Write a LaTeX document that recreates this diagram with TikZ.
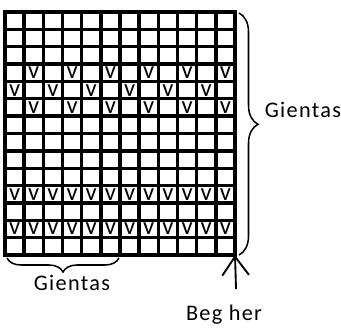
\documentclass[tikz,border=0pt]{standalone}
\usepackage{fontspec}
\setmainfont{Carlito}
\newfontfamily\lblfont[LetterSpace=6]{Carlito}
\usetikzlibrary{decorations.pathreplacing, arrows.meta}

\begin{document}
\begin{tikzpicture}[
  x=0.3mm, y=-0.3mm,
  gridline/.style={line width=2.9pt},
  border/.style={line width=3.3pt},
  vcell/.style={anchor=base, inner sep=0pt, font=\fontsize{21}{21}\selectfont},
  lbl/.style={inner sep=0pt, font=\lblfont\fontsize{19}{21}\selectfont},
  brc/.style 2 args={decorate, line width=1.3pt,
    decoration={brace, amplitude=#1, aspect=#2}},
  arr/.style={-{Straight Barb[length=5.6mm, width=8mm]}, line width=1.6pt},
]
\useasboundingbox (0,0) rectangle (341,327);

%% the 12 x 14 grid
\begin{scope}[shift={(5,12)}, x=5.75mm, y=-5.207mm]
  \coordinate (gNW) at (0,0);
  \coordinate (gSE) at (12,14);
  \foreach \c in {1,...,11}
    \draw[gridline] (\c,0) -- (\c,14);
  \foreach \r in {1,...,13}
    \draw[gridline] (0,\r) -- (12,\r);
  \draw[border] (gNW) rectangle (gSE);

  %% v marks
  \foreach \c in {2,4,...,12} {
    \node[vcell] (v4-\c) at (\c-0.5,3.84) {v};
    \node[vcell] (v6-\c) at (\c-0.5,5.84) {v};
  }
  \foreach \c in {1,3,...,11}
    \node[vcell] (v5-\c) at (\c-0.5,4.84) {v};
  \foreach \c in {1,...,12} {
    \node[vcell] (v11-\c) at (\c-0.5,10.84) {v};
    \node[vcell] (v13-\c) at (\c-0.5,12.84) {v};
  }
\end{scope}

%% braces and labels
\coordinate (rbTop) at (239,13);
\coordinate (rbBot) at (239,255);
\draw[brc={5.7mm}{0.46}] (rbTop) -- (rbBot);
\node[lbl] (gRight) at (303,110) {Gientas};

\coordinate (bbRight) at (119,258);
\coordinate (bbLeft) at (7,258);
\draw[brc={4.2mm}{0.5}] (bbRight) -- (bbLeft);
\node[lbl] (gBottom) at (72,283) {Gientas};

%% start arrow
\node[lbl] (begher) at (224,315) {Beg her};
\coordinate (arrFoot) at (236,289);
\draw[arr] (arrFoot) -- (gSE);

\end{tikzpicture}
\end{document}
